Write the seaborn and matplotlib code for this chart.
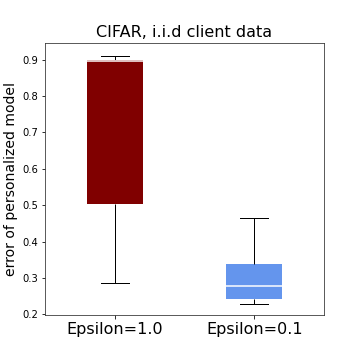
import numpy as np
import pandas as pd
import matplotlib
matplotlib.use("Agg")
import matplotlib.pyplot as plt
import seaborn as sns

# box statistics: whisker low, q1, median, q3, whisker high
labels = ["Epsilon=1.0", "Epsilon=0.1"]
eps_1_0 = [0.287, 0.502, 0.895, 0.900, 0.909]
eps_0_1 = [0.227, 0.243, 0.277, 0.338, 0.464]
colors = ["#800000", "#6495ED"]

df = pd.DataFrame({
    "eps": [labels[0]] * len(eps_1_0) + [labels[1]] * len(eps_0_1),
    "err": eps_1_0 + eps_0_1,
})

fig = plt.figure(figsize=(5, 5), dpi=72)
ax = fig.add_axes([0.125, 0.125, 0.775, 0.755])

sns.boxplot(data=df, x="eps", y="err", hue="eps", palette=colors, legend=False,
            width=0.4, whis=1.5, saturation=1, ax=ax,
            boxprops=dict(linewidth=0),
            medianprops=dict(color="white", linewidth=1.5),
            whiskerprops=dict(color="black", linewidth=1),
            capprops=dict(color="black", linewidth=1))

ax.set_title("CIFAR, i.i.d client data", fontsize=16)
ax.set_ylabel("error of personalized model", fontsize=14)
ax.set_xlabel("")
ax.set_ylim(0.198, 0.945)
ax.set_xlim(-0.5, 1.5)
ax.tick_params(axis="x", labelsize=16)
ax.tick_params(axis="y", labelsize=10)
ax.set_yticks([0.2, 0.3, 0.4, 0.5, 0.6, 0.7, 0.8, 0.9])
for s in ax.spines.values():
    s.set_color("#333333")

fig.savefig("out.png", dpi=72)
